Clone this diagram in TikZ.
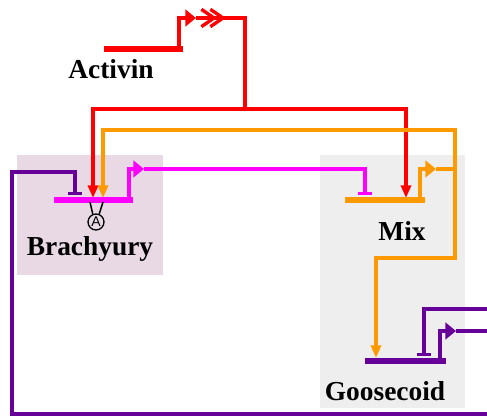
\documentclass[tikz,border=0pt]{standalone}
\usepackage{fontspec}
\setmainfont{Liberation Serif}
\newfontfamily\markfont{Liberation Sans}
\usepackage{tikz}
\usetikzlibrary{arrows.meta}
\definecolor{actred}{HTML}{FF0000}
\definecolor{mixorange}{HTML}{FF9900}
\definecolor{bramagenta}{HTML}{FF00FF}
\definecolor{gscpurple}{HTML}{660099}
\definecolor{brabox}{HTML}{E8D9E5}
\definecolor{mixbox}{HTML}{EEEEEE}
\tikzset{
  genebar/.style={line width=1.8mm},
  prom/.style={line width=1.3mm, -{Triangle[length=3.2mm,width=5mm]}},
  link/.style={line width=1mm},
  act/.style={link, -{Triangle[length=3.8mm,width=3mm]}},
  inh/.style={link, -{Bar[width=4mm]}},
  genename/.style={anchor=base, font=\bfseries\fontsize{23.4}{28}\selectfont},
}

\begin{document}
\begin{tikzpicture}[x=0.3mm, y=-0.3mm]
  \useasboundingbox (0,0) rectangle (487,416);
  \fill[brabox] (17,155) rectangle (163,275);
  \fill[mixbox] (320,155) rectangle (465,408);

  % genes
  \coordinate (actL) at (104,49);  \coordinate (actR) at (183,49);
  \coordinate (actS) at (179,49);  \coordinate (actP) at (196,18);
  \coordinate (braL) at (54,200);  \coordinate (braR) at (133,200);
  \coordinate (braS) at (129,200); \coordinate (braP) at (144,169);
  \coordinate (mixL) at (345,200); \coordinate (mixR) at (425,200);
  \coordinate (mixS) at (420,200); \coordinate (mixP) at (436,169);
  \coordinate (gscL) at (365,361); \coordinate (gscR) at (446,361);
  \coordinate (gscS) at (440,361); \coordinate (gscP) at (456,331);

  \node[genename] (actName) at (111,79)  {Activin};
  \node[genename] (braName) at (90,255)  {Brachyury};
  \node[genename] (mixName) at (402,240) {Mix};
  \node[genename] (gscName) at (385,400) {Goosecoid};

  % Activin output
  \coordinate (actC1) at (217,18);
  \coordinate (actC2) at (226,18);
  \coordinate (actJ) at (245,109);
  \coordinate (braA1) at (93,198);
  \coordinate (mixA) at (406,198);
  \draw[actred, link] (actP) -| (actJ);
  \draw[actred, link, -{Straight Barb[length=3.8mm,width=5.2mm]}] (actP) -- (actC1);
  \draw[actred, link, -{Straight Barb[length=3.8mm,width=5.2mm]}] (actP) -- (actC2);
  \draw[actred, act] (actJ) -| (braA1);
  \draw[actred, act] (actJ) -| (mixA);

  % Mix output
  \coordinate (mixUp) at (455,130);
  \coordinate (mixDn) at (455,258);
  \coordinate (braA2) at (103,198);
  \coordinate (gscA) at (376,358);
  \draw[mixorange, act] (mixP) -| (mixUp) -| (braA2);
  \draw[mixorange, act] (mixP) -| (mixDn) -| (gscA);

  % Brachyury output
  \coordinate (mixI) at (365,195);
  \draw[bramagenta, inh] (braP) -| (mixI);

  % Goosecoid output
  \coordinate (gscOut) at (487,331);
  \coordinate (gscIn) at (487,309);
  \coordinate (gscI) at (424,356);
  \coordinate (loopR) at (487,414);
  \coordinate (loopL) at (12,172);
  \coordinate (braI) at (75,195);
  \draw[gscpurple, link] (gscP) -- (gscOut);
  \draw[gscpurple, inh] (gscIn) -| (gscI);
  \draw[gscpurple, inh] (loopR) -| (loopL) -| (braI);

  % bars and promoters
  \draw[actred, genebar] (actL) -- (actR);
  \draw[actred, prom] (actS) |- (actP);
  \draw[bramagenta, genebar] (braL) -- (braR);
  \draw[bramagenta, prom] (braS) |- (braP);
  \draw[mixorange, genebar] (mixL) -- (mixR);
  \draw[mixorange, prom] (mixS) |- (mixP);
  \draw[gscpurple, genebar] (gscL) -- (gscR);
  \draw[gscpurple, prom] (gscS) |- (gscP);

  % marker under Brachyury
  \node[draw, circle, inner sep=0pt, minimum size=4.8mm, line width=0.4mm,
        font=\markfont\fontsize{12}{12}\selectfont] (aMark) at (96,222) {A};
  \coordinate (aTL) at (90,202);
  \coordinate (aTR) at (103,202);
  \draw[line width=0.45mm] (aTL) -- (aMark.112);
  \draw[line width=0.45mm] (aTR) -- (aMark.68);
\end{tikzpicture}
\end{document}
